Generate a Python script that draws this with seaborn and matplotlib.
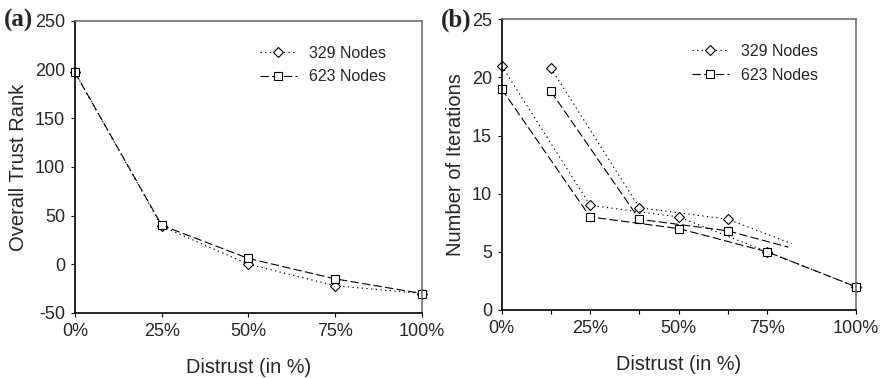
import numpy as np
import pandas as pd
import seaborn as sns
import matplotlib.pyplot as plt

# values
distrust = [0, 25, 50, 75, 100]
rank_329 = [197, 39, 0, -22, -30]
rank_623 = [197, 40, 6, -15, -30]

iter_329 = [21, 9, 8, 5, 2]
iter_623 = [19, 8, 7, 5, 2]

# panel (b) carries a shifted duplicate of the curves (artifact of the original figure)
ghost_x_329 = [13.9, 38.9, 63.9, 81.9]
ghost_329 = [20.8, 8.8, 7.8, 5.7]
ghost_x_623 = [13.9, 38.9, 63.9, 81.0]
ghost_623 = [18.8, 7.8, 6.8, 5.4]
ghost_ticks = [13.9, 38.9, 63.9]

sns.set_style('ticks')
plt.rcParams['font.family'] = ['Liberation Sans', 'DejaVu Sans']
plt.rcParams['axes.unicode_minus'] = False

dot = (0, (1.2, 3.0))
dash = (0, (7.5, 3.0))
lw = 0.8
mk_329 = dict(marker='D', markersize=4.6, markerfacecolor='white',
              markeredgecolor='black', markeredgewidth=0.8)
mk_623 = dict(marker='s', markersize=5.6, markerfacecolor='white',
              markeredgecolor='black', markeredgewidth=0.8)

fig = plt.figure(figsize=(8.84, 3.78), dpi=100)
ax1 = fig.add_axes([0.0848, 0.172, 0.3926, 0.773])
ax2 = fig.add_axes([0.5675, 0.180, 0.4005, 0.769])

# (a) overall trust rank
sns.lineplot(x=distrust, y=rank_329, ax=ax1, color='black', linestyle=dot, lw=lw,
             label='329 Nodes', **mk_329)
sns.lineplot(x=distrust, y=rank_623, ax=ax1, color='black', linestyle=dash, lw=lw,
             label='623 Nodes', **mk_623)
ax1.set_ylim(-50, 250)
ax1.set_yticks(np.arange(-50, 251, 50))
ax1.set_xticks(distrust)
ax1.set_xticklabels([f'{d}%' for d in distrust])
ax1.set_ylabel('Overall Trust Rank', fontsize=14.5, labelpad=5)

# (b) number of iterations
sns.lineplot(x=ghost_x_329, y=ghost_329, ax=ax2, color='black', linestyle=dot, lw=lw,
             markevery=[0, 1, 2], **mk_329)
sns.lineplot(x=ghost_x_623, y=ghost_623, ax=ax2, color='black', linestyle=dash, lw=lw,
             markevery=[0, 1, 2], **mk_623)
sns.lineplot(x=distrust, y=iter_329, ax=ax2, color='black', linestyle=dot, lw=lw,
             label='329 Nodes', **mk_329)
sns.lineplot(x=distrust, y=iter_623, ax=ax2, color='black', linestyle=dash, lw=lw,
             label='623 Nodes', **mk_623)
ax2.set_ylim(0, 25)
ax2.set_yticks(np.arange(0, 26, 5))
xt = sorted(distrust + ghost_ticks)
ax2.set_xticks(xt)
ax2.set_xticklabels([f'{int(t)}%' if t in distrust else '' for t in xt])
ax2.set_ylabel('Number of Iterations', fontsize=14.5, labelpad=5)

for ax in [ax1, ax2]:
    ax.set_xlim(0, 100)
    ax.set_xlabel('Distrust (in %)', fontsize=14.3, labelpad=13)
    ax.tick_params(axis='both', direction='out', length=3, width=0.8,
                   labelsize=13, color='black', pad=4)
    for s in ['left', 'bottom']:
        ax.spines[s].set_color('black')
        ax.spines[s].set_linewidth(1.2)
    for s in ['top', 'right']:
        ax.spines[s].set_color('#707070')
        ax.spines[s].set_linewidth(1.2)
    for line in ax.get_lines():
        line.set_clip_on(False)

ax1.legend(loc='upper left', bbox_to_anchor=(0.533, 0.915), frameon=False,
           fontsize=11.5, handlelength=2.3, handletextpad=0.8, borderpad=0,
           borderaxespad=0, labelspacing=0.55)
ax2.legend(loc='upper left', bbox_to_anchor=(0.537, 0.915), frameon=False,
           fontsize=11.5, handlelength=2.3, handletextpad=0.8, borderpad=0,
           borderaxespad=0, labelspacing=0.55)

serif = ['Liberation Serif', 'DejaVu Serif']
fig.text(0.004, 0.947, '(a)', ha='left', va='center', fontsize=18,
         fontweight='bold', family=serif)
fig.text(0.499, 0.947, '(b)', ha='left', va='center', fontsize=18,
         fontweight='bold', family=serif)

plt.savefig('out.png', dpi=100)
